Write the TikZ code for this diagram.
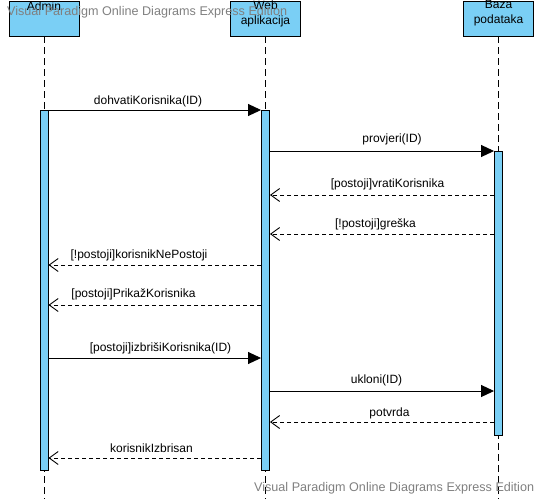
\documentclass[tikz,border=0pt]{standalone}
\usepackage{fontspec}
\setmainfont{Liberation Sans}
\usetikzlibrary{arrows.meta}
\definecolor{vpblue}{RGB}{122,207,245}
\definecolor{wmgray}{RGB}{128,128,128}
\tikzset{
  lifebox/.style={draw=black,fill=vpblue,line width=0.9pt,minimum width=70pt,minimum height=35pt,inner sep=0pt},
  actbar/.style={draw=black,fill=vpblue,line width=0.9pt,minimum width=8pt,inner sep=0pt},
  lifeline/.style={draw=black,line width=0.9pt,dash pattern=on 7pt off 4pt},
  callmsg/.style={draw=black,line width=0.9pt,-{Triangle[length=13pt,width=12pt]}},
  retmsg/.style={draw=black,line width=0.9pt,dash pattern=on 4pt off 3pt,-{Straight Barb[length=9pt,width=13pt,line width=0.9pt]}},
  msglabel/.style={font=\fontsize{12}{14}\selectfont,inner sep=0pt},
  boxlabel/.style={font=\fontsize{12}{15}\selectfont,inner sep=0pt,align=center},
  watermark/.style={font=\fontsize{12.6}{14}\selectfont,text=wmgray,inner sep=0pt}
}
\begin{document}
\begin{tikzpicture}[x=1pt,y=-1pt]
\useasboundingbox (0,0) rectangle (536,499);
% lifeline heads
\node[lifebox,anchor=north] (admin) at (44,0.5) {};
\node[lifebox,anchor=north] (web) at (265.5,0.5) {};
\node[lifebox,anchor=north] (baza) at (498.5,0.5) {};
\node[boxlabel] (adminT) at (44,6) {Admin};
\node[boxlabel] (webT) at (265.5,13.5) {Web\\aplikacija};
\node[boxlabel] (bazaT) at (498.5,13.5) {Baza\\podataka};
% lifelines
\coordinate (adminEnd) at (44,499);
\coordinate (webEnd) at (265.5,499);
\coordinate (bazaEnd) at (498.5,499);
\draw[lifeline] (admin.south) -- (adminEnd);
\draw[lifeline] (web.south) -- (webEnd);
\draw[lifeline] (baza.south) -- (bazaEnd);
% activation bars
\node[actbar,minimum height=360pt,anchor=north] (abar) at (44,110) {};
\node[actbar,minimum height=360pt,anchor=north] (wbar) at (265.5,110) {};
\node[actbar,minimum height=284pt,anchor=north] (bbar) at (498.5,150.5) {};
% messages
\draw[callmsg] (abar.east |- 0,110) -- (wbar.west |- 0,110);
\node[msglabel] (m1) at (148,101.5) {dohvatiKorisnika(ID)};
\draw[callmsg] (wbar.east |- 0,151) -- (bbar.west |- 0,151);
\node[msglabel] (m2) at (392,139) {provjeri(ID)};
\draw[retmsg] (bbar.west |- 0,195) -- (wbar.east |- 0,195);
\node[msglabel] (m3) at (387.5,184) {[postoji]vratiKorisnika};
\draw[retmsg] (bbar.west |- 0,234) -- (wbar.east |- 0,234);
\node[msglabel] (m4) at (375.5,224) {[!postoji]greška};
\draw[retmsg] (wbar.west |- 0,265) -- (abar.east |- 0,265);
\node[msglabel] (m5) at (139,255) {[!postoji]korisnikNePostoji};
\draw[retmsg] (wbar.west |- 0,305) -- (abar.east |- 0,305);
\node[msglabel] (m6) at (133.5,294.5) {[postoji]PrikažKorisnika};
\draw[callmsg] (abar.east |- 0,358) -- (wbar.west |- 0,358);
\node[msglabel] (m7) at (160.5,348) {[postoji]izbrišiKorisnika(ID)};
\draw[callmsg] (wbar.east |- 0,391) -- (bbar.west |- 0,391);
\node[msglabel] (m8) at (376.5,380) {ukloni(ID)};
\draw[retmsg] (bbar.west |- 0,422) -- (wbar.east |- 0,422);
\node[msglabel] (m9) at (389.5,413) {potvrda};
\draw[retmsg] (wbar.west |- 0,458) -- (abar.east |- 0,458);
\node[msglabel] (m10) at (151.5,448) {korisnikIzbrisan};
% watermarks
\node[watermark,anchor=west] (wm1) at (7,12) {Visual Paradigm Online Diagrams Express Edition};
\node[watermark,anchor=west] (wm2) at (254,488) {Visual Paradigm Online Diagrams Express Edition};
\end{tikzpicture}
\end{document}
